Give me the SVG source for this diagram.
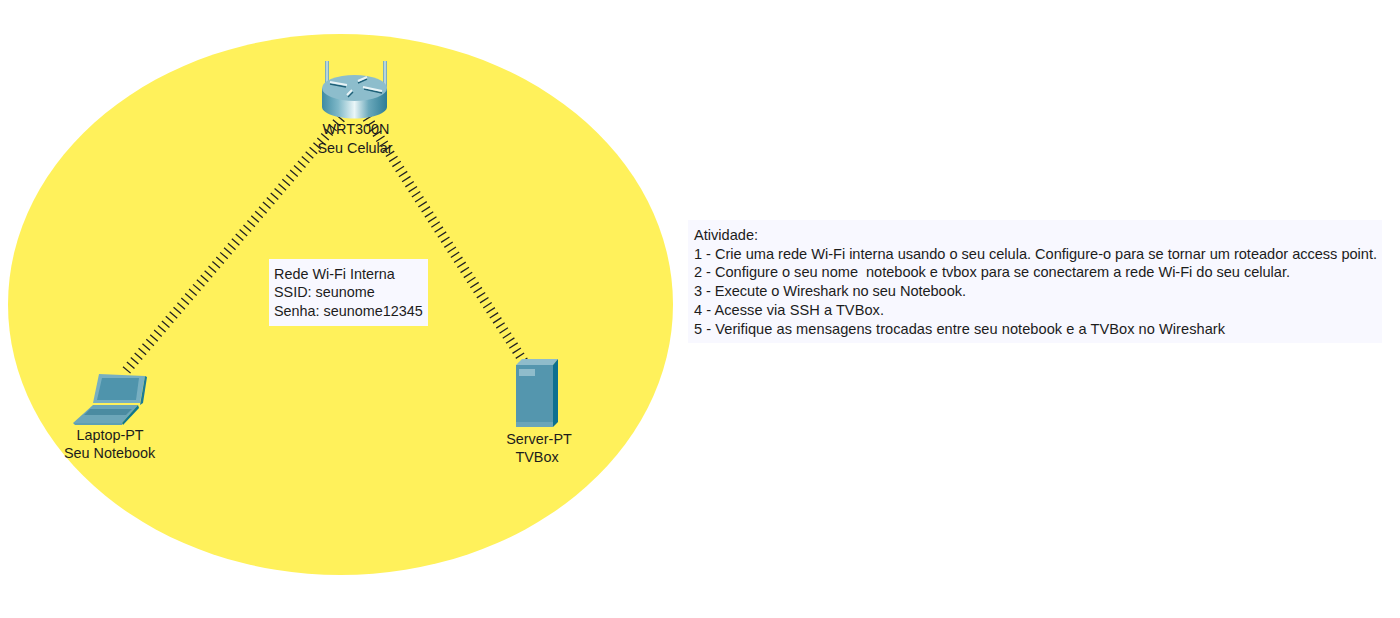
<svg xmlns="http://www.w3.org/2000/svg" width="1400" height="618" viewBox="0 0 1400 618">
<defs>
<linearGradient id="cyl" x1="0" y1="0" x2="1" y2="0"><stop offset="0" stop-color="#3f8ba3"/><stop offset="0.25" stop-color="#7fb8c8"/><stop offset="0.5" stop-color="#eaf6f8"/><stop offset="0.72" stop-color="#6aa8bb"/><stop offset="1" stop-color="#2f7d96"/></linearGradient>
<linearGradient id="ant" x1="0" y1="0" x2="1" y2="0"><stop offset="0" stop-color="#5f9db0"/><stop offset="0.5" stop-color="#d4e6eb"/><stop offset="1" stop-color="#5f9db0"/></linearGradient>
</defs>
<style>
text{font-family:"Liberation Sans",Arial,sans-serif;font-size:14.4px;fill:#1c1c1c}
#note-atividade text{font-size:14.6px}
.lbl{text-anchor:middle}
.wl{fill:none;stroke:#222;stroke-width:10;stroke-dasharray:1.3 4.7}
.arr{fill:none;stroke:#e8f3f6;stroke-width:2}
.arrd{fill:none;stroke:#1f6078;stroke-width:1.4}
</style>
<rect width="1400" height="618" fill="#fff"/>
<ellipse id="area" cx="340.5" cy="304.500" rx="332.500" ry="270.500" fill="#fff15b"/>
<g id="connectors">
<line class="wl" x1="341" y1="118" x2="125" y2="372"/>
<line class="wl" x1="367" y1="118" x2="524" y2="362"/>
</g>
<g id="router">
<rect x="325" y="61" width="4" height="30" fill="url(#ant)"/>
<rect x="383" y="61" width="4" height="30" fill="url(#ant)"/>
<path d="M322 88V107C322 113 336 118.500 354.500 118.500S387 113 387 107V88Z" fill="url(#cyl)"/>
<ellipse cx="354.500" cy="88" rx="32.500" ry="13" fill="#8dbdcc"/>
<path class="arrd" d="M330 84L346 87M358 83L367 79M364 89L382 93M348 97L353 92"/>
<path class="arr" d="M330 82L347 85M358 81L367 77M363 87L382 91M347 95L352 90"/>
<text class="lbl" x="356" y="134">WRT300N</text>
<text class="lbl" x="355" y="153">Seu Celular</text>
</g>
<g id="laptop">
<path d="M99 374L145 376L140 403L93 403Z" fill="#78afc1"/>
<path d="M102 378L139 378L136 400L97 400Z" fill="#4f94ac"/>
<path d="M145 376L147 377L143 403L140 405Z" fill="#1c7b96"/>
<path d="M73 423L93 405H138L122 423Z" fill="#6ca6b9"/>
<path d="M90 409H132L126 415H84Z" fill="#4a8ba1"/>
<path d="M73 423H122L122 425H75Z" fill="#5e9fb4"/>
<path d="M122 423L138 405L139 408L123 425Z" fill="#0f7690"/>
<text class="lbl" x="110" y="440">Laptop-PT</text>
<text class="lbl" x="109.500" y="458">Seu Notebook</text>
</g>
<g id="server">
<rect x="516" y="365" width="37" height="62" fill="#5496ae"/>
<path d="M516 365L522 359H558L553 365Z" fill="#8fbccb"/>
<path d="M553 365L558 359V422L553 427Z" fill="#0d7090"/>
<rect x="519" y="369" width="16" height="7" fill="#8fbccb"/>
<rect x="516" y="422" width="37" height="5" fill="#6aa5b9"/>
<text class="lbl" x="539" y="444">Server-PT</text>
<text class="lbl" x="537" y="462">TVBox</text>
</g>
<g id="note-wifi">
<rect x="269" y="259" width="159" height="67" fill="#f8f8ff"/>
<text x="274" y="279">Rede Wi-Fi Interna</text>
<text x="274" y="297">SSID: seunome</text>
<text x="274" y="316">Senha: seunome12345</text>
</g>
<g id="note-atividade">
<rect x="688" y="220" width="694" height="123" fill="#f8f8ff"/>
<text x="694" y="240">Atividade:</text>
<text x="694" y="259" textLength="683">1 - Crie uma rede Wi-Fi interna usando o seu celula. Configure-o para se tornar um roteador access point.</text>
<text x="694" y="277" textLength="596">2 - Configure o seu nome&#160; notebook e tvbox para se conectarem a rede Wi-Fi do seu celular.</text>
<text x="694" y="296" textLength="272">3 - Execute o Wireshark no seu Notebook.</text>
<text x="694" y="315" textLength="190">4 - Acesse via SSH a TVBox.</text>
<text x="694" y="334" textLength="531">5 - Verifique as mensagens trocadas entre seu notebook e a TVBox no Wireshark</text>
</g>
</svg>
